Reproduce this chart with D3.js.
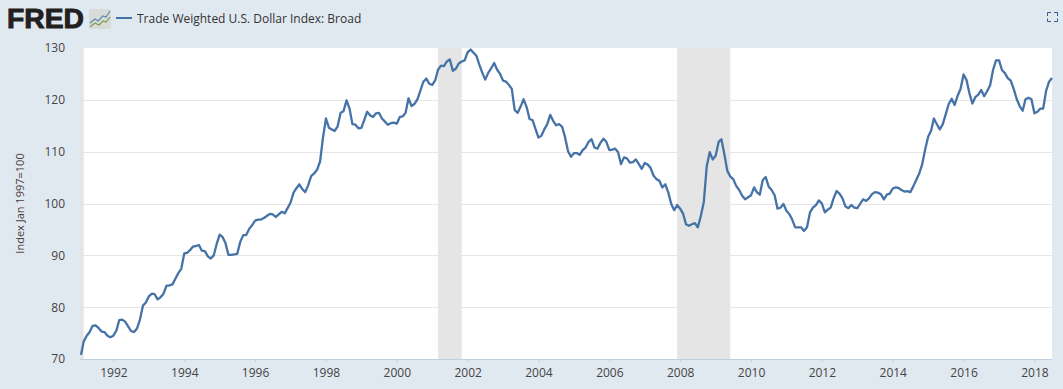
<!DOCTYPE html>
<html>
<head>
<meta charset="utf-8">
<title>Trade Weighted U.S. Dollar Index: Broad</title>
<script src="https://cdn.jsdelivr.net/npm/d3@7"></script>
<style>
  html, body { margin: 0; padding: 0; background: #e1e9f0; overflow: hidden; }
  svg { display: block; font-family: "Open Sans", sans-serif; }
</style>
</head>
<body>
<div id="chart"></div>
<script>
// Monthly values, first one is Feb 1991
const firstMonth = '1991-02-01';
const dollarIndex = [
  70.8, 73.4, 74.5, 75.2, 76.4, 76.5, 76.0, 75.3, 75.2, 74.5, 74.2,
  74.5, 75.5, 77.5, 77.6, 77.2, 76.3, 75.4, 75.2, 75.9, 77.6, 80.3, 80.9,
  82.1, 82.6, 82.5, 81.5, 81.9, 82.6, 84.1, 84.2, 84.4, 85.5, 86.6, 87.4,
  90.4, 90.5, 91.0, 91.7, 91.8, 92.0, 90.9, 90.8, 89.8, 89.4, 90.0, 92.2,
  94.0, 93.5, 92.4, 90.1, 90.1, 90.2, 90.3, 92.6, 93.9, 93.9, 95.1, 95.8,
  96.7, 96.9, 96.9, 97.2, 97.6, 98.0, 97.9, 97.4, 97.9, 98.4, 98.1, 99.1,
  100.2, 102.1, 102.9, 103.7, 102.8, 102.2, 103.5, 105.3, 105.8, 106.5, 108.1, 112.7,
  116.4, 114.6, 114.3, 114.0, 114.9, 117.5, 117.8, 119.9, 118.3, 115.3, 115.2, 114.5,
  114.6, 116.2, 117.7, 117.0, 116.7, 117.4, 117.5, 116.4, 115.8, 115.2, 115.5, 115.6,
  115.4, 116.7, 116.8, 117.5, 120.3, 118.8, 119.2, 120.1, 121.8, 123.5, 124.1, 123.1,
  122.9, 123.8, 125.8, 126.6, 126.5, 127.4, 127.8, 125.6, 126.0, 127.0, 127.4, 127.6,
  129.2, 129.7, 129.1, 128.5, 126.8, 125.2, 123.9, 125.2, 126.1, 127.1, 125.8, 125.0,
  123.7, 123.5, 122.9, 122.1, 118.0, 117.5, 118.7, 120.1, 118.6, 116.3, 116.1, 114.4,
  112.7, 113.1, 114.3, 115.3, 117.1, 115.9, 115.1, 115.3, 114.8, 112.8, 110.1, 109.0,
  109.7, 109.7, 109.4, 110.3, 110.8, 111.9, 112.4, 110.8, 110.6, 111.7, 112.5, 111.9,
  110.3, 110.4, 110.6, 109.9, 107.6, 108.9, 108.7, 107.9, 108.0, 108.5, 107.6, 106.7,
  107.8, 107.5, 106.9, 105.4, 104.7, 104.4, 103.1, 103.7, 102.1, 99.9, 98.7, 99.7,
  99.0, 98.0, 96.0, 95.7, 96.0, 96.2, 95.4, 97.6, 100.3, 107.2, 109.9, 108.5,
  109.2, 111.9, 112.4, 109.5, 106.3, 105.2, 104.7, 103.4, 102.6, 101.5, 100.8, 101.2,
  101.6, 103.1, 102.2, 101.7, 104.5, 105.1, 103.3, 102.6, 101.6, 99.0, 99.2, 99.9,
  98.6, 97.9, 96.9, 95.4, 95.4, 95.4, 94.7, 95.4, 98.3, 99.2, 99.7, 100.6,
  100.0, 98.3, 98.8, 99.2, 101.0, 102.4, 101.9, 101.0, 99.4, 99.1, 99.7, 99.2,
  99.1, 100.0, 100.8, 100.5, 101.0, 101.8, 102.2, 102.1, 101.8, 100.8, 101.7, 101.9,
  102.9, 103.1, 103.0, 102.6, 102.3, 102.4, 102.2, 103.3, 104.6, 105.8, 107.6, 110.4,
  112.9, 114.1, 116.4, 115.3, 114.3, 115.3, 117.2, 119.2, 120.2, 119.0, 120.8, 122.1,
  124.9, 123.8, 121.3, 119.3, 120.5, 121.0, 121.9, 120.7, 121.7, 122.8, 125.8, 127.6,
  127.6, 125.7, 125.2, 124.2, 123.7, 122.1, 120.2, 118.8, 117.9, 120.1, 120.4, 120.1,
  117.4, 117.7, 118.3, 118.3, 121.7, 123.5, 124.2
];

// Recession bands
const recessionStarts = ['1990-07-01', '2001-03-01', '2007-12-01'];
const recessionEnds = ['1991-03-01', '2001-11-01', '2009-06-01'];

const yTicks = [70, 80, 90, 100, 110, 120, 130];
const xTickYears = [1992, 1994, 1996, 1998, 2000, 2002, 2004, 2006, 2008, 2010, 2012, 2014, 2016, 2018];

const seriesTitle = 'Trade Weighted U.S. Dollar Index: Broad';
const yAxisTitle = 'Index Jan 1997=100';

const parseDate = d3.utcParse('%Y-%m-%d');
const start = parseDate(firstMonth);
const monthly = dollarIndex.map((value, i) => ({ date: d3.utcMonth.offset(start, i), value }));

const totalWidth = 1063;
const totalHeight = 389;
const margin = { top: 48, right: 11, bottom: 30, left: 81 };
const width = totalWidth - margin.left - margin.right;
const height = totalHeight - margin.top - margin.bottom;

const svgRoot = d3.select('#chart')
  .append('svg')
  .attr('width', totalWidth)
  .attr('height', totalHeight);

// Header: logo, legend and expand icon
const header = svgRoot.append('g');

header.append('text')
  .attr('x', 7)
  .attr('y', 28)
  .attr('font-family', '"Liberation Sans", Arial, sans-serif')
  .attr('font-weight', 'bold')
  .attr('font-size', 27)
  .attr('textLength', 77)
  .attr('lengthAdjust', 'spacingAndGlyphs')
  .attr('fill', '#231f20')
  .attr('stroke', '#231f20')
  .attr('stroke-width', 0.9)
  .text('FRED');

const icon = header.append('g').attr('transform', 'translate(89, 9)');
icon.append('rect')
  .attr('width', 22)
  .attr('height', 20)
  .attr('rx', 2)
  .attr('fill', '#d9dbd8');
icon.append('path')
  .attr('d', 'M1 14L6 10L9 12L14 7L17 8L21 2')
  .attr('fill', 'none')
  .attr('stroke', '#5f87aa')
  .attr('stroke-width', 1.2);
icon.append('path')
  .attr('d', 'M1 18L6 14L10 16L14 12L17 13L21 8')
  .attr('fill', 'none')
  .attr('stroke', '#76a050')
  .attr('stroke-width', 1.2);

header.append('line')
  .attr('x1', 116)
  .attr('x2', 132)
  .attr('y1', 18)
  .attr('y2', 18)
  .attr('stroke', '#4572a7')
  .attr('stroke-width', 2);

header.append('text')
  .attr('x', 137)
  .attr('y', 23)
  .attr('font-size', 12)
  .attr('fill', '#333333')
  .text(seriesTitle);

header.append('path')
  .attr('d', 'M1047.5 16V12.5H1051M1054 12.5H1057.5V16M1057.5 18.5V21.5H1054M1051 21.5H1047.5V18.5')
  .attr('fill', 'none')
  .attr('stroke', '#2f5f8f')
  .attr('stroke-width', 1);

const svg = svgRoot.append('g')
  .attr('transform', `translate(${margin.left}, ${margin.top})`);

// Set up scales
const x = d3.scaleUtc()
  .domain(d3.extent(monthly, d => d.date))
  .range([0, width]);

const y = d3.scaleLinear()
  .domain([70, 130])
  .range([height, 0]);

// Plot background
svg.append('rect')
  .attr('x', -1)
  .attr('width', width + 1)
  .attr('height', height)
  .attr('fill', '#ffffff');

// Gridlines
svg.selectAll('.grid')
  .data(yTicks.filter(d => d > 70 && d < 130))
  .enter()
  .append('line')
  .attr('class', 'grid')
  .attr('x1', -1)
  .attr('x2', width)
  .attr('y1', d => Math.round(y(d)) + 0.5)
  .attr('y2', d => Math.round(y(d)) + 0.5)
  .attr('stroke', '#e6e6e6')
  .attr('stroke-width', 1);

// Recession bands, clamped to the plot
svg.selectAll('.recession')
  .data(recessionStarts.map((s, i) => ({ start: parseDate(s), end: parseDate(recessionEnds[i]) })))
  .enter()
  .append('rect')
  .attr('class', 'recession')
  .attr('x', d => Math.max(x(d.start), -1))
  .attr('width', d => x(d.end) - Math.max(x(d.start), -1))
  .attr('height', height)
  .attr('fill', '#e5e5e5');

// Add x-axis
const xAxis = svg.append('g')
  .attr('transform', `translate(0, ${height})`)
  .call(d3.axisBottom(x)
    .tickValues(xTickYears.map(year => new Date(Date.UTC(year, 0, 1))))
    .tickFormat(d3.utcFormat('%Y'))
    .tickSize(3)
    .tickSizeOuter(0)
    .tickPadding(6));
xAxis.select('.domain').attr('stroke', '#c0d0e0').attr('d', `M-1,0.5H${width}`);
xAxis.selectAll('line').attr('stroke', '#c0d0e0');
xAxis.selectAll('text')
  .attr('font-family', '"Open Sans", sans-serif')
  .attr('font-size', 12)
  .attr('fill', '#444444');

// Add y-axis
const yAxis = svg.append('g')
  .call(d3.axisLeft(y).tickValues(yTicks).tickSize(0).tickPadding(16));
yAxis.select('.domain').remove();
yAxis.selectAll('text')
  .attr('font-family', '"Open Sans", sans-serif')
  .attr('font-size', 12)
  .attr('fill', '#444444');

// Add y-axis label
svg.append('text')
  .attr('text-anchor', 'middle')
  .attr('transform', `translate(${-margin.left + 24}, ${height / 2}) rotate(-90)`)
  .attr('font-size', 11)
  .attr('fill', '#4a3a3a')
  .text(yAxisTitle);

// Line
const line = d3.line()
  .x(d => x(d.date))
  .y(d => y(d.value));

svg.append('path')
  .datum(monthly)
  .attr('fill', 'none')
  .attr('stroke', '#4572a7')
  .attr('stroke-width', 2.3)
  .attr('stroke-linejoin', 'round')
  .attr('d', line);
</script>
</body>
</html>
